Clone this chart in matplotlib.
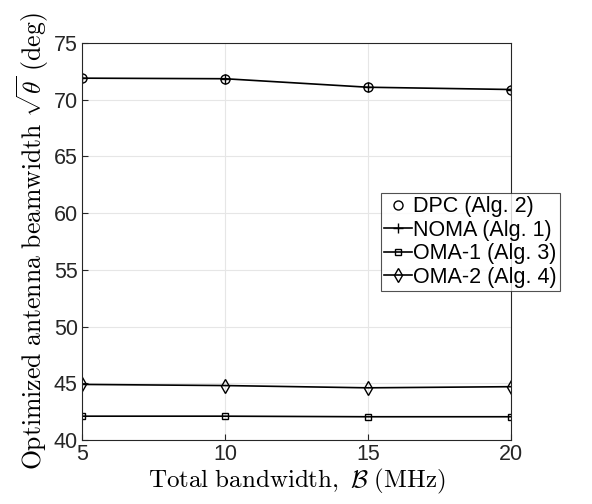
import numpy as np
import matplotlib.pyplot as plt

plt.rcParams['mathtext.fontset'] = 'cm'
plt.rcParams['font.family'] = ['Liberation Sans', 'DejaVu Sans']

bandwidth = [5, 10, 15, 20]
dpc = [71.9, 71.85, 71.1, 70.9]
noma = [71.9, 71.85, 71.1, 70.9]
oma1 = [42.1, 42.1, 42.05, 42.05]
oma2 = [44.9, 44.8, 44.6, 44.7]

fig = plt.figure(figsize=(5.92, 5.04), dpi=100)
ax = fig.add_axes([82/592, 64/504, 429/592, 397/504])

ax.plot(bandwidth, dpc, 'o', color='k', mfc='none', ms=6.5, mew=1.0, label='DPC (Alg. 2)')
ax.plot(bandwidth, noma, '-+', color='k', ms=7, lw=1.2, mew=1.0, label='NOMA (Alg. 1)')
ax.plot(bandwidth, oma1, '-s', color='k', mfc='none', ms=5, lw=1.2, mew=1.0, label='OMA-1 (Alg. 3)')
ax.plot(bandwidth, oma2, '-d', color='k', mfc='none', ms=7.5, lw=1.2, mew=1.0, label='OMA-2 (Alg. 4)')

ax.set_xlim(5, 20)
ax.set_ylim(40, 75)
ax.set_xticks([5, 10, 15, 20])
ax.set_yticks(np.arange(40, 76, 5))
ax.tick_params(labelsize=15.5, direction='in', length=4, color='#262626', labelcolor='#262626', pad=3)
ax.grid(True, color='#e6e6e6', lw=0.8)
ax.set_axisbelow(True)
for s in ax.spines.values():
    s.set_color('#262626')
    s.set_linewidth(0.8)

ax.set_xlabel(r'$\mathrm{Total\ bandwidth,}\ \mathcal{B}\ \mathrm{(MHz)}$', fontsize=18, labelpad=1)
ax.set_ylabel(r'$\mathrm{Optimized\ antenna\ beamwidth}\ \sqrt{\theta}\ \mathrm{(deg)}$', fontsize=18.5, labelpad=2)

leg = ax.legend(loc='upper left', bbox_to_anchor=(381/592, 1 - 193/504), bbox_transform=fig.transFigure,
                fontsize=15.5, frameon=True, fancybox=False, handlelength=1.3, handletextpad=0.05,
                borderpad=0.15, labelspacing=0.12, borderaxespad=0)
leg.get_frame().set_edgecolor('#262626')
leg.get_frame().set_linewidth(0.8)

fig.savefig('out.png', dpi=100)
